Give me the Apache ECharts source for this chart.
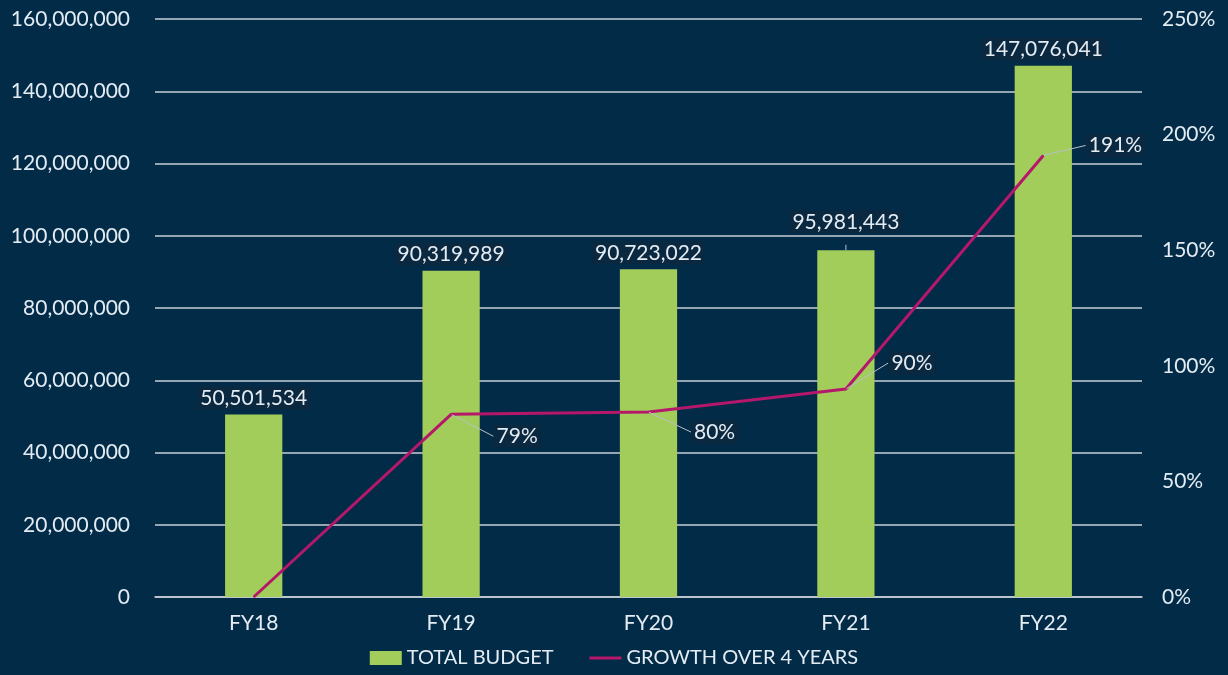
<!DOCTYPE html>
<html>
<head>
<meta charset="utf-8">
<script src="https://cdn.jsdelivr.net/npm/echarts@6/dist/echarts.min.js"></script>
<style>
  html, body { margin: 0; padding: 0; background: #022b48; }
  #chart { width: 1228px; height: 675px; }
</style>
</head>
<body>
<div id="chart"></div>
<script>
// Fiscal years and budget figures
const categories = ['FY18', 'FY19', 'FY20', 'FY21', 'FY22'];
const totalBudget = [50501534, 90319989, 90723022, 95981443, 147076041];
const growthPct = [0, 79, 80, 90, 191];

const textColor = '#e4ecf3';
const labelBg = '#0a2840';
const fontFamily = 'Lato, "Open Sans", sans-serif';

// Label offsets (px) for each point's callout
const barLabelLift = [0, 0, 0, 12, 0];
const lineLabelShift = [[0, 0], [42, 22], [42, 20], [42, -26], [42, -10]];

const chart = echarts.init(document.getElementById('chart'));

const fmt = v => v.toLocaleString('en-US');

chart.setOption({
  backgroundColor: '#022b48',
  animation: false,
  textStyle: { fontFamily: fontFamily },
  grid: { left: 155, right: 86, top: 19, bottom: 78 },
  legend: {
    bottom: 2,
    left: 'center',
    itemGap: 36,
    itemWidth: 32,
    itemHeight: 14,
    textStyle: { color: textColor, fontSize: 20, fontFamily: fontFamily },
    data: [
      { name: 'TOTAL BUDGET', icon: 'rect' },
      { name: 'GROWTH OVER 4 YEARS', icon: 'path://M0,0 L32,0 L32,3 L0,3 Z' }
    ]
  },
  xAxis: {
    type: 'category',
    data: categories,
    axisTick: { show: false },
    axisLine: { show: true, lineStyle: { color: '#c9cfd6', width: 1.5 } },
    axisLabel: { color: textColor, fontSize: 21, margin: 16, fontFamily: fontFamily }
  },
  yAxis: [
    {
      type: 'value',
      min: 0,
      max: 160000000,
      interval: 20000000,
      axisLine: { show: false },
      axisTick: { show: false },
      splitLine: { lineStyle: { color: '#c9cfd6', width: 1.5 } },
      axisLabel: {
        color: textColor, fontSize: 21, margin: 25, fontFamily: fontFamily,
        formatter: v => fmt(v)
      }
    },
    {
      type: 'value',
      min: 0,
      max: 250,
      interval: 50,
      axisLine: { show: false },
      axisTick: { show: false },
      splitLine: { show: false },
      axisLabel: {
        color: textColor, fontSize: 21, margin: 20, fontFamily: fontFamily,
        formatter: v => v + '%'
      }
    }
  ],
  series: [
    {
      name: 'TOTAL BUDGET',
      type: 'bar',
      yAxisIndex: 0,
      barWidth: '29%',
      itemStyle: { color: '#a2cd5a' },
      data: totalBudget.map((v, i) => ({
        value: v,
        label: { offset: [0, -barLabelLift[i]] }
      })),
      label: {
        show: true,
        position: 'top',
        distance: 5,
        color: textColor,
        fontSize: 21,
        fontFamily: fontFamily,
        backgroundColor: labelBg,
        padding: [1, 3],
        formatter: p => fmt(p.value)
      },
      labelLine: { show: true, lineStyle: { color: '#b8c0c8', width: 1 } }
    },
    {
      name: 'GROWTH OVER 4 YEARS',
      type: 'line',
      yAxisIndex: 1,
      symbol: 'circle',
      symbolSize: 1,
      showSymbol: true,
      itemStyle: { color: '#b5186b' },
      lineStyle: { color: '#b5186b', width: 3 },
      data: growthPct.map((v, i) => ({
        value: v,
        label: { show: i > 0 }
      })),
      label: {
        show: true,
        position: 'right',
        distance: 0,
        color: textColor,
        fontSize: 21,
        fontFamily: fontFamily,
        backgroundColor: labelBg,
        padding: [1, 3],
        formatter: p => p.value + '%'
      },
      labelLayout: p => {
        const s = lineLabelShift[p.dataIndex];
        return { dx: s[0], dy: s[1] };
      },
      labelLine: { show: true, lineStyle: { color: '#b8c0c8', width: 1 } }
    }
  ]
});
</script>
</body>
</html>
